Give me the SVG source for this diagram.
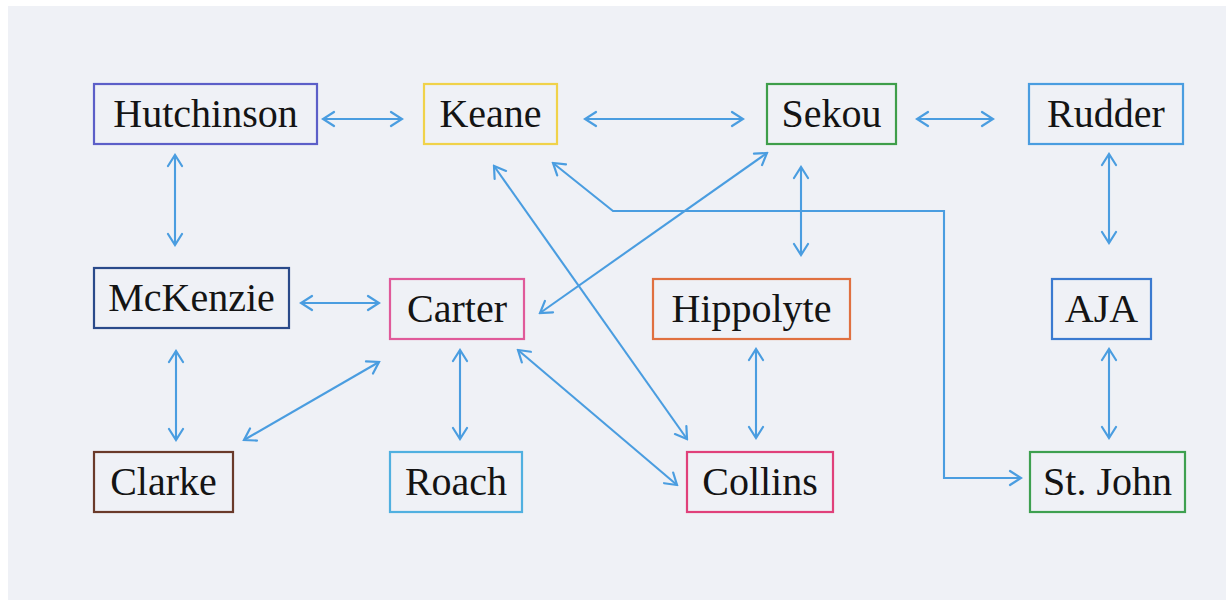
<svg xmlns="http://www.w3.org/2000/svg" width="1226" height="600" viewBox="0 0 1226 600">
<defs>
<marker id="ah" viewBox="-13 -9 15 18" refX="0" refY="0" markerWidth="15" markerHeight="18" markerUnits="userSpaceOnUse" orient="auto-start-reverse">
<path d="M -11 -7 L 0 0 L -11 7" fill="none" stroke="#4a9de0" stroke-width="2.2" stroke-linecap="round" stroke-linejoin="miter"/>
</marker>
<style>
.n rect{fill:none;stroke-width:2.2}
.n text{font-family:"Liberation Serif","Times New Roman",serif;font-size:40px;fill:#141414;text-anchor:middle}
#edges line,#edges polyline{stroke:#4a9de0;stroke-width:2.1;fill:none;marker-end:url(#ah)}
#edges .b{marker-start:url(#ah)}
</style>
</defs>
<rect x="0" y="0" width="1226" height="600" fill="#ffffff"/>
<rect x="8" y="6" width="1218" height="594" fill="#eff1f6"/>
<g id="edges">
<line class="b" x1="323" y1="119" x2="402" y2="119"/>
<line class="b" x1="585" y1="119" x2="743" y2="119"/>
<line class="b" x1="917" y1="119" x2="993" y2="119"/>
<line class="b" x1="175" y1="155" x2="175" y2="245"/>
<line class="b" x1="801" y1="167" x2="801" y2="255"/>
<line class="b" x1="1109" y1="154" x2="1109" y2="243"/>
<line class="b" x1="301" y1="303" x2="379" y2="303"/>
<line class="b" x1="176" y1="351" x2="176" y2="440"/>
<line class="b" x1="244" y1="440" x2="379" y2="362"/>
<line class="b" x1="460" y1="350" x2="460" y2="439"/>
<line class="b" x1="767" y1="153" x2="540" y2="313"/>
<line class="b" x1="518" y1="350" x2="677" y2="485"/>
<line class="b" x1="494" y1="166" x2="687" y2="439"/>
<line class="b" x1="756" y1="349" x2="756" y2="438"/>
<line class="b" x1="1109" y1="349" x2="1109" y2="438"/>
<polyline class="b" points="553,163 613,211 944,211 944,478 1021,478"/>
</g>
<g id="hutchinson" class="n"><rect x="94" y="84" width="223" height="60" stroke="#5c5fc8"/><text x="205.5" y="127">Hutchinson</text></g>
<g id="keane" class="n"><rect x="424" y="84" width="133" height="60" stroke="#f0d24a"/><text x="490.5" y="127">Keane</text></g>
<g id="sekou" class="n"><rect x="767" y="84" width="129" height="60" stroke="#3e9e4a"/><text x="831.5" y="127">Sekou</text></g>
<g id="rudder" class="n"><rect x="1029" y="84" width="154" height="60" stroke="#4a9de0"/><text x="1106" y="127">Rudder</text></g>
<g id="mckenzie" class="n"><rect x="94" y="268" width="195" height="60" stroke="#2a4a8a"/><text x="191.5" y="311">McKenzie</text></g>
<g id="carter" class="n"><rect x="390" y="279" width="134" height="60" stroke="#e05a9a"/><text x="457" y="322">Carter</text></g>
<g id="hippolyte" class="n"><rect x="653" y="279" width="197" height="60" stroke="#e07040"/><text x="751.5" y="322">Hippolyte</text></g>
<g id="aja" class="n"><rect x="1052" y="279" width="99" height="60" stroke="#3a7ad0"/><text x="1101.5" y="322">AJA</text></g>
<g id="clarke" class="n"><rect x="94" y="452" width="139" height="60" stroke="#6a3a2a"/><text x="163.5" y="495">Clarke</text></g>
<g id="roach" class="n"><rect x="390" y="452" width="132" height="60" stroke="#50b0e0"/><text x="456" y="495">Roach</text></g>
<g id="collins" class="n"><rect x="687" y="452" width="146" height="60" stroke="#e0407a"/><text x="760" y="495">Collins</text></g>
<g id="stjohn" class="n"><rect x="1030" y="452" width="155" height="60" stroke="#3ea050"/><text x="1107.5" y="495">St. John</text></g>
</svg>
